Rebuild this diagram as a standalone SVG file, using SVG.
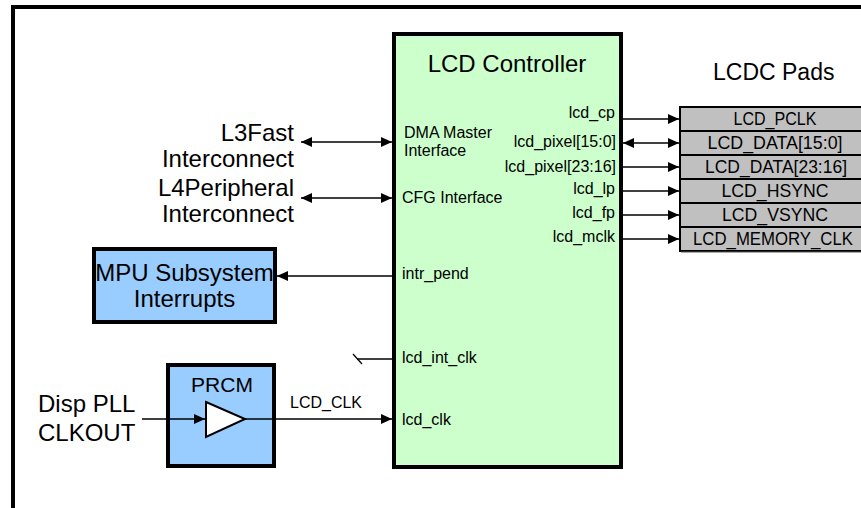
<svg xmlns="http://www.w3.org/2000/svg" width="861" height="508" viewBox="0 0 861 508">
<style>
text{font-family:"Liberation Sans",Arial,sans-serif;fill:#000}
.big{font-size:24px}
.sig{font-size:16px}
.pad{font-size:19px;text-anchor:middle}
.ln{stroke:#000;stroke-width:1.3;fill:none}
.box{stroke:#000;stroke-width:4}
</style>
<defs>
<marker id="ah" markerUnits="userSpaceOnUse" markerWidth="11" markerHeight="10" refX="11" refY="5" orient="auto-start-reverse">
<path d="M0,0 L11,5 L0,10 z" fill="#000"/>
</marker>
</defs>
<rect width="861" height="508" fill="#fff"/>
<path d="M13,508 V7 H861" fill="none" stroke="#000" stroke-width="4"/>

<g id="lcd-controller">
<rect class="box" x="394" y="34" width="227" height="433" fill="#ccffcc"/>
<text x="507" y="72" font-size="24" text-anchor="middle">LCD Controller</text>
<text class="sig" x="404" y="138">DMA Master</text>
<text class="sig" x="404" y="156">Interface</text>
<text class="sig" x="402" y="203">CFG Interface</text>
<text class="sig" x="402" y="279">intr_pend</text>
<text class="sig" x="402" y="363">lcd_int_clk</text>
<text class="sig" x="402" y="425">lcd_clk</text>
<g text-anchor="end">
<text class="sig" x="615" y="118">lcd_cp</text>
<text class="sig" x="616" y="147">lcd_pixel[15:0]</text>
<text class="sig" x="616" y="172">lcd_pixel[23:16]</text>
<text class="sig" x="615" y="194">lcd_lp</text>
<text class="sig" x="615" y="218">lcd_fp</text>
<text class="sig" x="615" y="242">lcd_mclk</text>
</g>
</g>

<g id="lcdc-pads">
<text x="713" y="80" font-size="23">LCDC Pads</text>
<g fill="#c0c0c0" stroke="#000" stroke-width="2">
<rect x="680" y="107" width="195" height="24"/>
<rect x="680" y="131" width="195" height="24"/>
<rect x="680" y="155" width="195" height="24"/>
<rect x="680" y="179" width="195" height="24"/>
<rect x="680" y="203" width="195" height="24"/>
<rect x="680" y="227" width="195" height="24"/>
</g>
<path d="M681,252 H861" stroke="#555" stroke-width="1"/>
<text class="pad" x="775" y="125" textLength="83" lengthAdjust="spacingAndGlyphs">LCD_PCLK</text>
<text class="pad" x="775" y="149" textLength="135" lengthAdjust="spacingAndGlyphs">LCD_DATA[15:0]</text>
<text class="pad" x="776" y="173" textLength="142" lengthAdjust="spacingAndGlyphs">LCD_DATA[23:16]</text>
<text class="pad" x="775" y="197" textLength="107" lengthAdjust="spacingAndGlyphs">LCD_HSYNC</text>
<text class="pad" x="775" y="221" textLength="106" lengthAdjust="spacingAndGlyphs">LCD_VSYNC</text>
<text class="pad" x="773" y="245" textLength="160" lengthAdjust="spacingAndGlyphs">LCD_MEMORY_CLK</text>
</g>

<g id="interconnects" text-anchor="end">
<text class="big" x="294" y="141">L3Fast</text>
<text class="big" x="294" y="167">Interconnect</text>
<text class="big" x="294" y="196">L4Peripheral</text>
<text class="big" x="294" y="222">Interconnect</text>
</g>

<g id="mpu">
<rect class="box" x="94" y="249" width="181" height="73" fill="#99ccff"/>
<text class="big" x="184.5" y="281" text-anchor="middle">MPU Subsystem</text>
<text class="big" x="184.5" y="307" text-anchor="middle">Interrupts</text>
</g>

<g id="prcm">
<rect class="box" x="168" y="365" width="106" height="101" fill="#99ccff"/>
<text x="222" y="392" font-size="21" text-anchor="middle">PRCM</text>
<path d="M206,402 L245,419 L206,437 z" fill="#fff" stroke="#000" stroke-width="2"/>
</g>

<g id="disp-pll">
<text class="big" x="38" y="412">Disp PLL</text>
<text class="big" x="38" y="441">CLKOUT</text>
</g>

<g id="connectors">
<line class="ln" x1="301" y1="142" x2="392" y2="142" marker-start="url(#ah)" marker-end="url(#ah)"/>
<line class="ln" x1="301" y1="198" x2="392" y2="198" marker-start="url(#ah)" marker-end="url(#ah)"/>
<line class="ln" x1="392" y1="276" x2="277" y2="276" marker-end="url(#ah)"/>
<line class="ln" x1="357" y1="359" x2="392" y2="359"/>
<line class="ln" x1="353" y1="354" x2="362" y2="364"/>
<line class="ln" x1="142" y1="419" x2="205" y2="419" marker-end="url(#ah)"/>
<line class="ln" x1="245" y1="419" x2="392" y2="419" marker-end="url(#ah)"/>
<text class="sig" x="290" y="408">LCD_CLK</text>
<line class="ln" x1="623" y1="119" x2="679" y2="119" marker-end="url(#ah)"/>
<line class="ln" x1="623" y1="143" x2="679" y2="143" marker-start="url(#ah)" marker-end="url(#ah)"/>
<line class="ln" x1="623" y1="167" x2="679" y2="167" marker-end="url(#ah)"/>
<line class="ln" x1="623" y1="191" x2="679" y2="191" marker-end="url(#ah)"/>
<line class="ln" x1="623" y1="215" x2="679" y2="215" marker-end="url(#ah)"/>
<line class="ln" x1="623" y1="239" x2="679" y2="239" marker-end="url(#ah)"/>
</g>
</svg>
